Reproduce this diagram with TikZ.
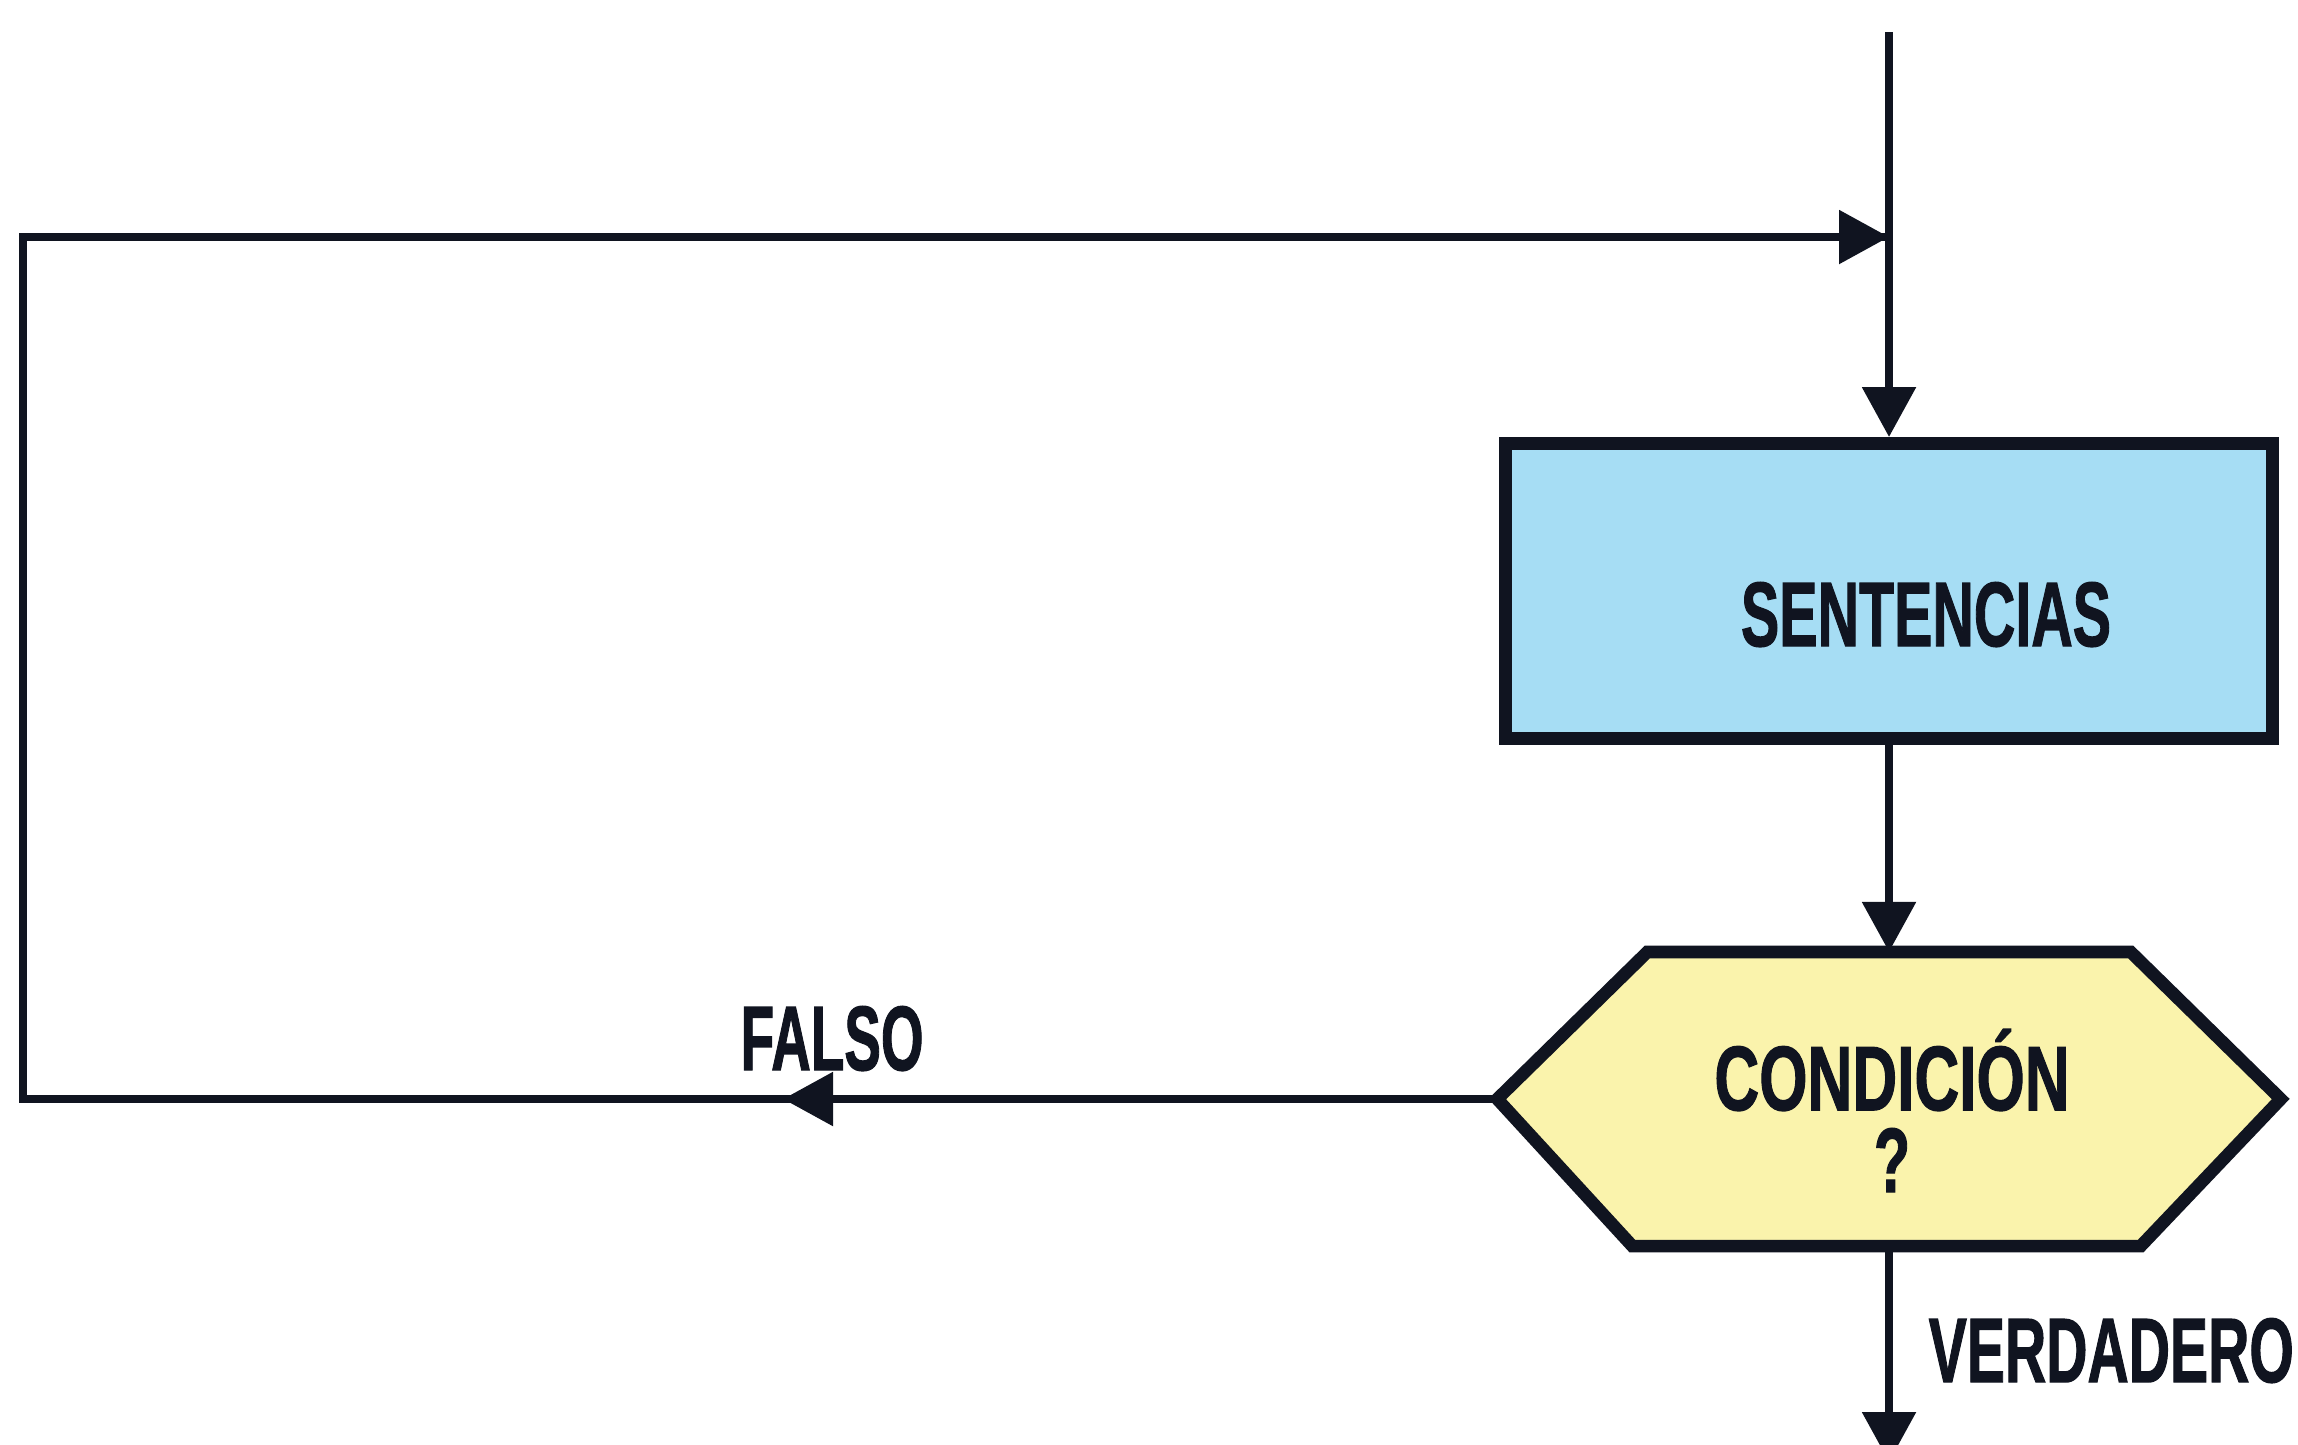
\documentclass[tikz,border=0pt]{standalone}
\usepackage{fontspec}
\setmainfont{Liberation Sans}
\newfontfamily\labelfont[FakeBold=1.5]{Liberation Sans Bold}
\usetikzlibrary{arrows.meta}
\definecolor{boxblue}{RGB}{166,221,244}
\definecolor{hexyellow}{RGB}{250,243,172}
\definecolor{ink}{RGB}{16,20,32}
\begin{document}
\begin{tikzpicture}[x=0.01cm,y=-0.01cm,
  conn/.style={line width=2.5pt, draw=ink, line join=miter},
  tip/.style={-{Triangle[length=0.5cm,width=0.52cm,fill=ink]}},
  stepbox/.style={draw=ink, line width=3.6pt, fill=boxblue, minimum width=7.67cm, minimum height=2.95cm, inner sep=0pt},
  hexframe/.style={minimum width=7.83cm, minimum height=2.94cm, inner sep=0pt, outer sep=0pt},
  hexline/.style={draw=ink, line width=3.6pt, fill=hexyellow, line join=miter},
  lbl/.style={font=\labelfont\fontsize{26pt}{23.3pt}\selectfont, inner sep=0pt, text=ink}]
\useasboundingbox (0,0) rectangle (2298,1444);
\clip (0,0) rectangle (2298,1444);

\node[stepbox] (sent) at (1889,591) {};
\node[hexframe] (cond) at (1889,1099) {};
\draw[hexline] (cond.west) -- ([xshift=1.5cm]cond.north west) -- ([xshift=-1.5cm]cond.north east)
  -- (cond.east) -- ([xshift=-1.4cm]cond.south east) -- ([xshift=1.35cm]cond.south west) -- cycle;

\coordinate (entry) at (1889,32);
\coordinate (join) at (1889,237);
\coordinate (tl) at (23,237);
\coordinate (bl) at (23,1099);
\coordinate (falsetip) at (783,1099);
\coordinate (exit) at (1889,1462);

\draw[conn,tip] (entry) -- (sent.north);
\draw[conn,tip] (sent.south) -- (cond.north);
\draw[conn,tip] (cond.south) -- (exit);
\draw[conn] (cond.west) -- (bl) -- (tl) -- (join);
\draw[conn,tip] (cond.west) -- (falsetip);
\draw[conn,tip] (tl) -- (join);

\node[lbl,anchor=base] (tsent) at (1926,646) {\scalebox{0.628}[1]{SENTENCIAS}};
\node[lbl,anchor=base,align=center] (tcond) at (1892,1192) {\scalebox{0.679}[1]{CONDICIÓN}\\\scalebox{0.65}[1]{?}};
\node[lbl,anchor=base west] (tfalso) at (740,1070) {\scalebox{0.60}[1]{FALSO}};
\node[lbl,anchor=base west] (tverd) at (1928,1382) {\scalebox{0.625}[1]{VERDADERO}};
\end{tikzpicture}
\end{document}
